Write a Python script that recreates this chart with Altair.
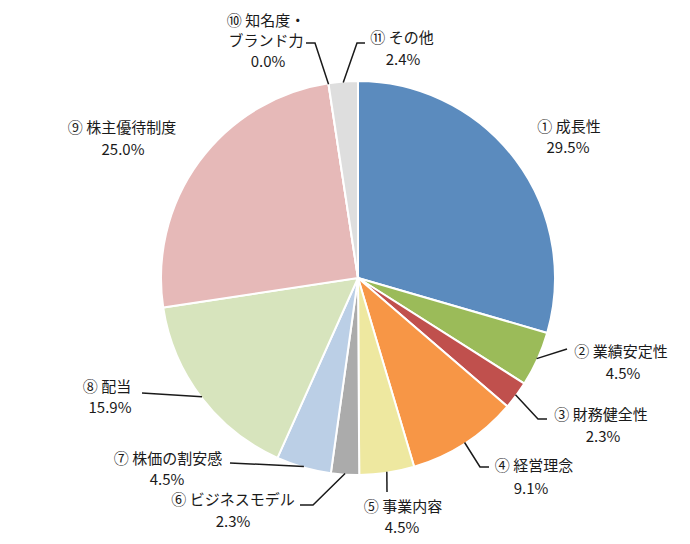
import math
import altair as alt
import pandas as pd

# ---- data ----
names = ["① 成長性", "② 業績安定性", "③ 財務健全性", "④ 経営理念", "⑤ 事業内容",
         "⑥ ビジネスモデル", "⑦ 株価の割安感", "⑧ 配当", "⑨ 株主優待制度",
         "⑩ 知名度・\nブランド力", "⑪ その他"]
values = [29.5, 4.5, 2.3, 9.1, 4.5, 2.3, 4.5, 15.9, 25.0, 0.0, 2.4]
pct_labels = ["29.5%", "4.5%", "2.3%", "9.1%", "4.5%", "2.3%", "4.5%", "15.9%", "25.0%", "0.0%", "2.4%"]
colors = ["#5B8BBE", "#9BBB59", "#C0504D", "#F79646", "#EEE8A0", "#ABABAB",
          "#BBCFE6", "#D7E4BD", "#E6B9B8", "#DCDCDC", "#DEDEDE"]

# ---- layout (page pixel positions, separate from data) ----
OFF = 8  # page margin
CX, CY, R = 358 - OFF, 278 - OFF, 197
name_pos = [(569, 127), (621, 352), (601, 415), (534, 466), (403, 507), (233, 500),
            (168, 459), (107, 387), (122, 128), (266, 21), (402, 38)]
pct_pos = [(568, 148), (623, 374), (603, 437), (531, 489), (402, 528), (233, 522),
           (167, 480), (110, 408), (123, 150), (268, 62), (403, 60)]
leader_pts = [None, [(567, 349)], [(538, 419), (547, 419)], [(480, 467), (489, 467)],
              [(387, 492)], [(313, 505), (300, 505)], [(230, 463)], [(142, 393)], None,
              [(315, 43), (306, 43)], [(357, 43), (365, 43)]]
LINE_H = 20

df = pd.DataFrame({"idx": list(range(len(values))), "name": names, "value": values})

# text rows
nrows, prows = [], []
for i, (nm, pc) in enumerate(zip(names, pct_labels)):
    lines = nm.split("\n")
    x0, y0 = name_pos[i]
    for k, ln in enumerate(lines):
        nrows.append({"t": ln, "x": x0 - OFF, "y": y0 - OFF + k * LINE_H})
    px, py = pct_pos[i]
    prows.append({"t": pc, "x": px - OFF, "y": py - OFF})
ndf = pd.DataFrame(nrows)
pdf = pd.DataFrame(prows)

# leader lines: start from the slice's mid-angle on the pie edge
lrows = []
cum = 0.0
for i, v in enumerate(values):
    mid = (cum + v / 2) / 100 * 2 * math.pi
    cum += v
    if leader_pts[i] is None:
        continue
    sx = CX + (R - 1) * math.sin(mid)
    sy = CY - (R - 1) * math.cos(mid)
    pts = [(sx, sy)] + [(x - OFF, y - OFF) for x, y in leader_pts[i]]
    for k, (x, y) in enumerate(pts):
        lrows.append({"id": i, "o": k, "x": x, "y": y})
ldf = pd.DataFrame(lrows)

pie = alt.Chart(df).mark_arc(outerRadius=R, stroke="white", strokeWidth=2).encode(
    theta=alt.Theta("value:Q", stack=True),
    order=alt.Order("idx:Q", sort="ascending"),
    color=alt.Color("name:N", scale=alt.Scale(domain=names, range=colors), legend=None),
    x=alt.value(CX),
    y=alt.value(CY),
)

leaders = alt.Chart(ldf).mark_line(color="#1a1a1a", strokeWidth=1.5).encode(
    x=alt.X("x:Q", scale=None),
    y=alt.Y("y:Q", scale=None),
    detail="id:N",
    order="o:Q",
)

name_text = alt.Chart(ndf).mark_text(
    font="Noto Sans CJK JP", fontSize=15, color="#1a1a1a", align="center", baseline="middle"
).encode(
    x=alt.X("x:Q", scale=None),
    y=alt.Y("y:Q", scale=None),
    text="t:N",
)

pct_text = alt.Chart(pdf).mark_text(
    font="Noto Sans CJK JP", fontSize=15, color="#1a1a1a", align="center", baseline="middle"
).encode(
    x=alt.X("x:Q", scale=None),
    y=alt.Y("y:Q", scale=None),
    text="t:N",
)

chart = alt.layer(pie, leaders, name_text, pct_text).properties(
    width=674, height=528, padding=0, autosize=alt.AutoSizeParams(type="none")
).configure_view(stroke=None)

chart.save("out.html", embed_options={"renderer": "svg", "actions": False})
